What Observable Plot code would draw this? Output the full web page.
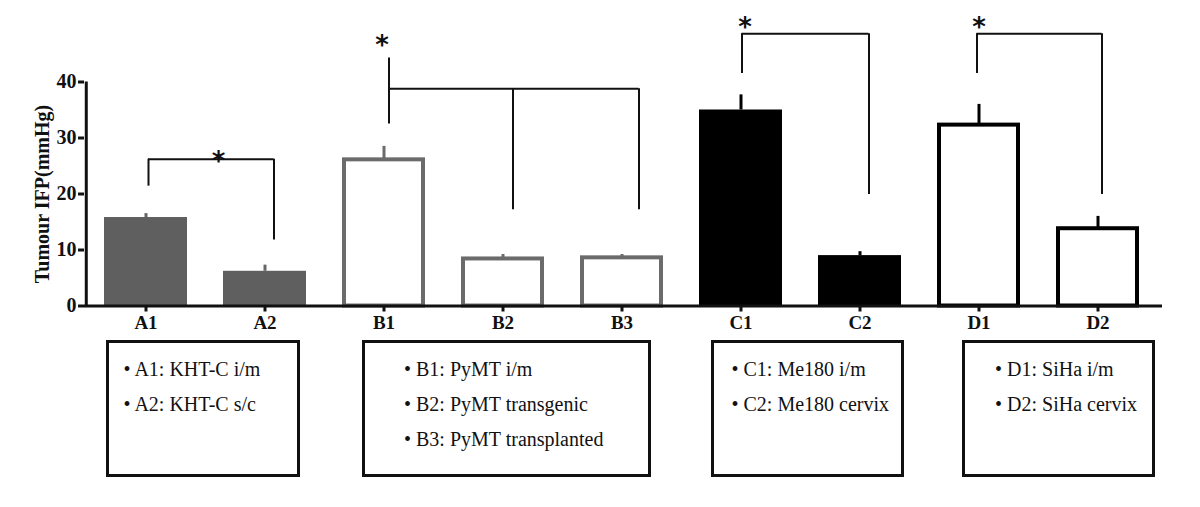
<!DOCTYPE html>
<html><head><meta charset="utf-8">
<script src="https://cdn.jsdelivr.net/npm/d3@7"></script>
<script src="https://cdn.jsdelivr.net/npm/@observablehq/plot@0.6"></script>
<style>
html,body{margin:0;padding:0;background:#fff;}
#wrap{position:relative;width:1200px;height:507px;}
#wrap svg{position:absolute;left:0;top:0;}
.box{position:absolute;box-sizing:border-box;border:3px solid #111;top:340px;height:137px;font-family:"Liberation Serif","DejaVu Serif",serif !important;font-size:20px;line-height:35px;padding-top:9px;color:#111;white-space:nowrap;}
</style></head><body><div id="wrap"></div>
<script>
// ---- data ----
const categories = ["A1","A2","B1","B2","B3","C1","C2","D1","D2"];
const groups     = ["A","A","B","B","B","C","C","D","D"];
const means      = [15.8, 6.2, 26.1, 8.4, 8.6, 35.0, 9.0, 32.3, 13.8];
const errors     = [0.7, 1.1, 2.4, 0.8, 0.6, 2.7, 0.7, 3.7, 2.2];
const yTicks     = [0, 10, 20, 30, 40];
const yLabel     = "Tumour IFP(mmHg)";

// significance brackets
const legCats  = ["A1","A2","B1","B2","B3","C1","C2","D1","D2"];
const legLow   = [21.4, 11.8, 32.5, 17.2, 17.2, 41.5, 19.9, 41.5, 19.9];
const legHigh  = [26.2, 26.2, 44.3, 38.8, 38.8, 48.6, 48.6, 48.6, 48.6];
const spanFrom = ["A1","B1","C1","D1"];
const spanTo   = ["A2","B3","C2","D2"];
const spanLevel= [26.2, 38.8, 48.6, 48.6];
const starCats = ["A1","B1","C1","D1"];
const starLevel= [26.9, 47.6, 50.7, 50.8];

// legend boxes
const legendGroups = ["A","B","C","D"];
const legendLines = [
  ["A1: KHT-C i/m","A2: KHT-C s/c"],
  ["B1: PyMT i/m","B2: PyMT transgenic","B3: PyMT transplanted"],
  ["C1: Me180 i/m","C2: Me180 cervix"],
  ["D1: SiHa i/m","D2: SiHa cervix"]
];

// ---- layout / styles ----
const W = 1200, H = 340, mL = 84, mR = 41, mT = 81.5, mB = 34.5;
const pad = 0.305;
const step = (W - mL - mR) / categories.length;
const bw = step * (1 - pad);
const serif = "'Liberation Serif','DejaVu Serif',serif";
const style = {
  A: {fill: "#5f5f5f", stroke: "none", sw: 0, err: "#666"},
  B: {fill: "#fff", stroke: "#6b6b6b", sw: 4, err: "#6b6b6b"},
  C: {fill: "#000", stroke: "none", sw: 0, err: "#000"},
  D: {fill: "#fff", stroke: "#000", sw: 4, err: "#000"}
};
const legNudge  = {A1: 2.5, A2: 9, B1: 5, B2: 10, B3: 17, C1: 1, C2: 9, D1: -2, D2: 4};
const starNudge = {A1: 72.5, B1: -2, C1: 4, D1: 0};
const ink = "#111";

const rows = categories.map((c, i) => ({cat: c, group: groups[i], mean: means[i], err: errors[i]}));

const marks = [];
for (const g of ["A","B","C","D"]) {
  const s = style[g];
  const data = rows.filter(d => d.group === g);
  marks.push(Plot.barY(data, {x: "cat", y: "mean", fill: s.fill, stroke: s.stroke, strokeWidth: s.sw,
    insetLeft: s.sw / 2, insetRight: s.sw / 2, insetTop: 0, insetBottom: 0}));
  marks.push(Plot.ruleX(data, {x: "cat", y1: "mean", y2: d => d.mean + d.err, stroke: s.err, strokeWidth: 3}));
  marks.push(Plot.ruleY(data, {x: "cat", y: d => d.mean + d.err, stroke: s.err, strokeWidth: 3,
    insetLeft: 21, insetRight: 21}));
}
// brackets: vertical legs
legCats.forEach((c, i) => {
  marks.push(Plot.ruleX([i], {x: j => legCats[j], y1: j => legLow[j], y2: j => legHigh[j],
    stroke: ink, strokeWidth: 2, dx: legNudge[c]}));
});
// brackets: horizontal spans
spanFrom.forEach((c, j) => {
  marks.push(Plot.ruleY([j], {x1: k => spanFrom[k], x2: k => spanTo[k], y: k => spanLevel[k],
    stroke: ink, strokeWidth: 2, insetLeft: bw / 2 + legNudge[c], insetRight: bw / 2 - legNudge[spanTo[j]]}));
});
// stars
starCats.forEach((c, j) => {
  marks.push(Plot.text([j], {x: k => starCats[k], y: k => starLevel[k], text: () => "*",
    fontFamily: "'DejaVu Sans', sans-serif", fontWeight: "bold", fontSize: 26, fill: ink,
    lineAnchor: "middle", dx: starNudge[c], dy: 6}));
});
// axes
marks.push(Plot.ruleX([categories[0]], {x: d => d, y1: 0, y2: 40, dx: -step / 2, stroke: ink, strokeWidth: 3}));
marks.push(Plot.ruleY([0], {stroke: ink, strokeWidth: 3, insetRight: -3}));
marks.push(Plot.axisY({ticks: yTicks, tickSize: 6, tickPadding: 2, strokeWidth: 3, fontSize: 20,
  fontWeight: "bold", fontFamily: serif, label: null, color: ink}));
marks.push(Plot.axisX({tickSize: 6, tickPadding: 3, strokeWidth: 3, fontSize: 19, fontWeight: "bold",
  fontFamily: serif, label: null, color: ink}));
marks.push(Plot.text([yLabel], {frameAnchor: "left", text: d => d, rotate: -90, dx: -42,
  fontSize: 20, fontWeight: "bold", fontFamily: serif, fill: ink, textAnchor: "middle", lineAnchor: "middle"}));

const chart = Plot.plot({
  width: W, height: H,
  marginLeft: mL, marginRight: mR, marginTop: mT, marginBottom: mB,
  style: {fontFamily: serif, background: "#fff", color: ink},
  x: {domain: categories, paddingInner: pad, paddingOuter: pad / 2, align: 0.5},
  y: {domain: [0, 40], nice: false},
  marks
});
const wrap = document.getElementById("wrap");
wrap.appendChild(chart);

// legend boxes (HTML below the plot area)
const boxLeft = [105.5, 362, 710.5, 962];
const boxWidth = [194, 289, 193, 193];
const boxPad = [15, 39, 18, 30];
legendGroups.forEach((g, i) => {
  const div = document.createElement("div");
  div.className = "box";
  div.style.left = boxLeft[i] + "px";
  div.style.width = boxWidth[i] + "px";
  div.style.paddingLeft = boxPad[i] + "px";
  legendLines[i].forEach(t => {
    const line = document.createElement("div");
    line.textContent = "\u2022 " + t;
    div.appendChild(line);
  });
  wrap.appendChild(div);
});
</script></body></html>
